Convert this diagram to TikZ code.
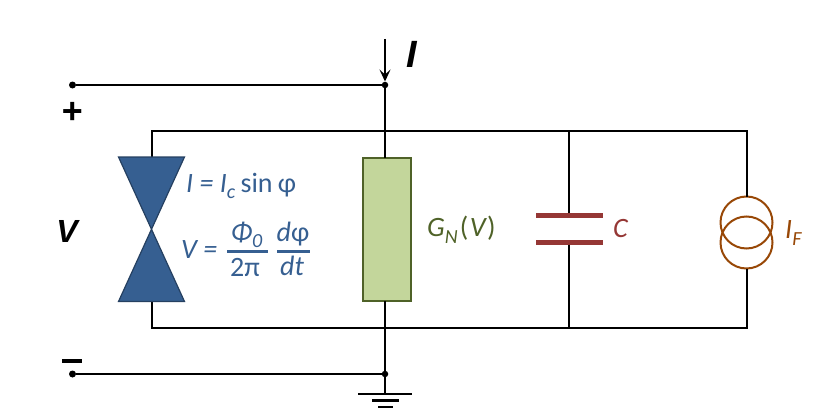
\documentclass[tikz,border=0pt]{standalone}
\usepackage{fontspec}
\setmainfont{Carlito}
\newfontfamily\headfont{Liberation Sans}
\usetikzlibrary{arrows.meta,positioning}
\definecolor{jjblue}{HTML}{365F91}
\definecolor{jjedge}{HTML}{254061}
\definecolor{gngreen}{HTML}{4F6228}
\definecolor{gnfill}{HTML}{C3D69B}
\definecolor{capred}{HTML}{953735}
\definecolor{srcbrown}{HTML}{984807}
\newcommand{\lowtxt}[1]{\raisebox{-0.24em}{\fontsize{20}{20}\selectfont #1}}
\tikzset{
  wire/.style={line width=2pt,black},
  junc/.style={circle,fill=black,inner sep=0pt,minimum size=7pt},
  head/.style={inner sep=0pt,font=\headfont\bfseries\itshape\fontsize{#1}{#1}\selectfont},
  lab/.style={inner sep=0pt,font=\fontsize{28}{32}\selectfont\itshape},
  gnbox/.style={draw=gngreen,fill=gnfill,line width=2pt,minimum width=48pt,minimum height=143pt,inner sep=0pt,outer sep=0pt},
  plate/.style={fill=capred,inner sep=0pt,outer sep=0pt,minimum width=67pt,minimum height=4.4pt},
  ring/.style={circle,draw=srcbrown,line width=2pt,minimum size=52pt,inner sep=0pt,outer sep=0pt},
  gndbar/.style={fill=black,inner sep=0pt,minimum height=2.2pt},
  fracbar/.style={jjblue,line width=2.8pt},
}
\begin{document}
\begin{tikzpicture}[x=1pt,y=-1pt]
\useasboundingbox (0,0) rectangle (827,420);
% terminals
\node[junc] (plus) at (72.5,85) {};
\node[junc] (minus) at (72.5,374) {};
\node[junc,minimum size=6.5pt] (topj) at (385,85) {};
\node[junc,minimum size=6.5pt] (botj) at (385,374) {};
\coordinate (feed) at (385,39);
\draw[wire] (plus) -- (topj);
\draw[wire] (minus) -- (botj);
\draw[line width=1.6pt,-{Stealth[length=12pt,width=11pt,inset=5pt]}] (feed) -- (topj);
% source
\node[ring] (srct) at (746.5,222.5) {};
\node[ring] (srcb) at (746.5,242.5) {};
% frame
\coordinate (ftl) at (151.5,130.5);
\coordinate (fbl) at (151.5,327.5);
\coordinate (jjt) at (151.5,157);
\coordinate (jjb) at (151.5,301);
\draw[wire] (jjt) -- (ftl) -- (ftl -| srct.north) -- (srct.north);
\draw[wire] (jjb) -- (fbl) -- (fbl -| srcb.south) -- (srcb.south);
% junction
\fill[jjblue,draw=jjedge,line width=1.2pt] (118.5,157) -- (184.5,157) -- (118.5,301.5) -- (184.5,301.5) -- cycle;
% normal branch
\node[gnbox] (gn) at (387,229) {};
\draw[wire] (topj) -- (topj |- gn.north);
\draw[wire] (botj) -- (botj |- gn.south);
% capacitor
\node[plate] (capt) at (569,215.5) {};
\node[plate] (capb) at (569,242.5) {};
\draw[wire] (capt.north |- ftl) -- (capt.north);
\draw[wire] (capb.south) -- (capb.south |- fbl);
% ground
\node[gndbar,minimum width=54pt] (gnda) at (385,394) {};
\node[gndbar,minimum width=27pt] (gndb) at (385,400.5) {};
\node[gndbar,minimum width=15pt] (gndc) at (385,407) {};
\draw[wire] (botj) -- (gnda);
% labels
\node[head=38] (ilab) at (412,54) {I};
\node[head=32] (vlab) at (67,231) {V};
\node[head=36] (plab) at (72,112.5) {+};
\node[fill=black,inner sep=0pt,minimum width=20pt,minimum height=4pt] (mlab) at (72,361) {};
\node[lab,text=jjblue,anchor=west] (jjeqa) at (186,186) {I = I\lowtxt{c}\kern-1pt{} \upshape sin\kern-1pt{} φ};
\node[lab,text=jjblue,anchor=west] (jjeqb) at (181,250) {V =};
\node[lab,text=jjblue] (numa) at (246.5,235) {Φ\lowtxt{0}};
\node[lab,text=jjblue] (dena) at (245,267) {\upshape 2π};
\node[lab,text=jjblue] (numb) at (293,234) {d\upshape φ};
\node[lab,text=jjblue] (denb) at (292,266) {dt};
\coordinate (bara) at (227,251.5);
\coordinate (barb) at (268,251.5);
\coordinate (barc) at (277,251.5);
\coordinate (bard) at (310,251.5);
\draw[fracbar] (bara) -- (barb);
\draw[fracbar] (barc) -- (bard);
\node[lab,text=gngreen,anchor=west] (gnlab) at (427,230) {G\lowtxt{N}\kern2pt{\upshape(}\kern1.5pt V\kern1.5pt{\upshape)}};
\node[lab,text=capred,anchor=west] (clab) at (613,229) {C};
\node[lab,text=srcbrown,anchor=west] (iflab) at (785,233) {I\lowtxt{F}};
\end{tikzpicture}
\end{document}
